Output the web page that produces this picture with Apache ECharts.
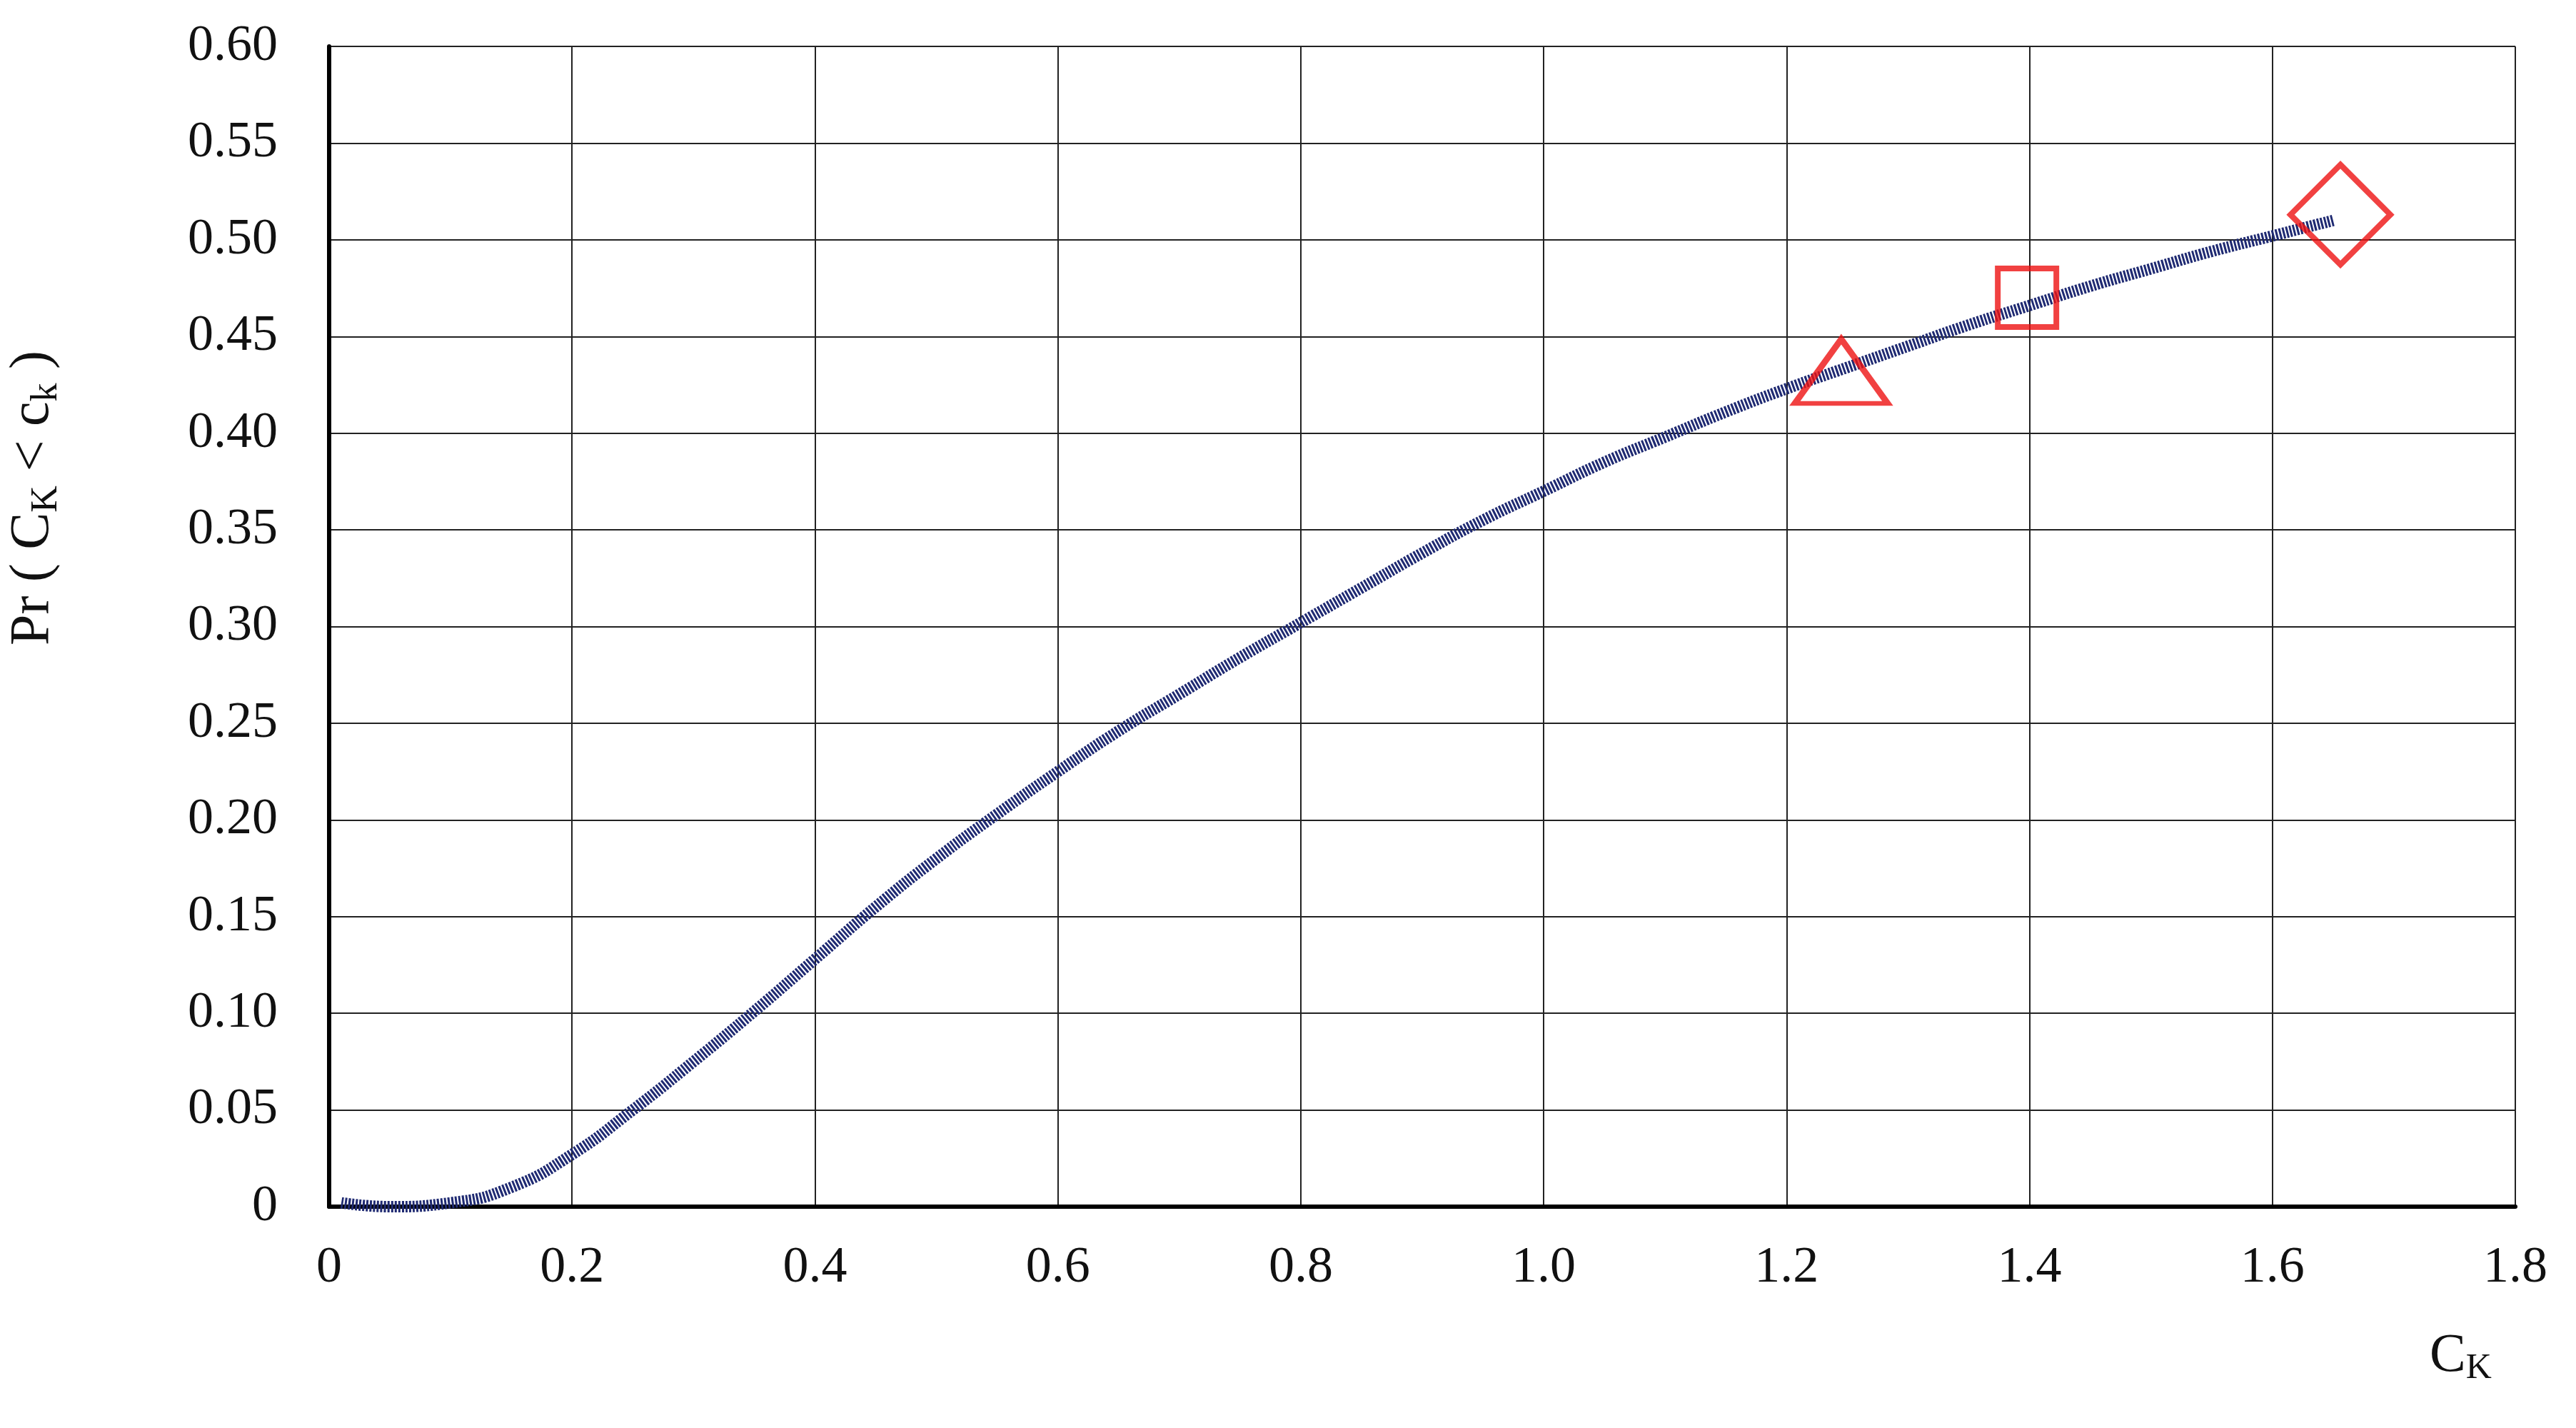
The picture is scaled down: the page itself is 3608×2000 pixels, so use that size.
<!DOCTYPE html>
<html><head><meta charset="utf-8">
<script src="https://cdn.jsdelivr.net/npm/echarts@6/dist/echarts.min.js"></script>
<style>html,body{margin:0;background:#fff}#c{width:3608px;height:2000px}</style>
</head><body><div id="c"></div>
<script>
// curve
var ckValues = [0.01, 0.05, 0.1, 0.15, 0.2, 0.25, 0.3, 0.35, 0.4, 0.45, 0.5, 0.55, 0.6, 0.65, 0.7, 0.75, 0.8, 0.85, 0.9, 0.95, 1.0, 1.05, 1.1, 1.15, 1.2, 1.25, 1.3, 1.35, 1.4, 1.45, 1.5, 1.55, 1.6, 1.65];
var prValues = [0.002, 0.0, 0.002, 0.01, 0.027, 0.05, 0.075, 0.101, 0.128, 0.155, 0.18, 0.203, 0.225, 0.246, 0.265, 0.284, 0.302, 0.32, 0.338, 0.355, 0.37, 0.385, 0.398, 0.411, 0.423, 0.434, 0.445, 0.456, 0.466, 0.476, 0.485, 0.494, 0.502, 0.51];
var triPoint = [1.245, 0.432];
var rectPoint = [1.398, 0.47];
var diamondPoint = [1.656, 0.513];

var font = 'Liberation Serif';
var chart = echarts.init(document.getElementById('c'));
var hollow = {color: 'rgba(255,255,255,0)', borderColor: '#ee1111', borderWidth: 8};
var option = {
    animation: false,
    grid: {left: 439, right: 85, top: 65, bottom: 310},
    xAxis: {
        type: 'value', min: 0, max: 1.8, interval: 0.2,
        axisLine: {lineStyle: {color: '#000', width: 6}},
        axisTick: {show: false},
        splitLine: {lineStyle: {color: '#222', width: 2}},
        axisLabel: {fontFamily: font, fontSize: 72, color: '#111', margin: 50,
            formatter: function (v) { return v === 0 ? '0' : v.toFixed(1); }},
        name: '{m|C}{s|K}', nameLocation: 'end', nameGap: 0,
        nameTextStyle: {padding: [420, 0, 0, -120],
            rich: {m: {fontFamily: font, fontSize: 76, color: '#111'},
                   s: {fontFamily: font, fontSize: 50, color: '#111', padding: [34, 0, 0, 0]}}}
    },
    yAxis: {
        type: 'value', min: 0, max: 0.6, interval: 0.05,
        axisLine: {show: true, lineStyle: {color: '#000', width: 6}},
        axisTick: {show: false},
        splitLine: {lineStyle: {color: '#222', width: 2}},
        axisLabel: {fontFamily: font, fontSize: 72, color: '#111', margin: 72,
            formatter: function (v) { return v === 0 ? '0' : v.toFixed(2); }},
        name: '{m|Pr ( C}{s|K}{m| < c}{s|k}{m| )}', nameLocation: 'middle', nameGap: 370,
        nameTextStyle: {padding: [0, 0, 0, 360],
            rich: {m: {fontFamily: font, fontSize: 78, color: '#111'},
                   s: {fontFamily: font, fontSize: 52, color: '#111', padding: [36, 0, 0, 0]}}}
    },
    series: [
        {type: 'line', smooth: true, showSymbol: false,
         data: ckValues.map(function (x, i) { return [x, prValues[i]]; }),
         lineStyle: {color: '#1f2a72', width: 16, type: [3, 2]}, z: 3},
        {type: 'scatter', symbol: 'triangle', symbolSize: [130, 90], data: [triPoint], itemStyle: hollow, z: 4},
        {type: 'scatter', symbol: 'rect', symbolSize: 82, data: [rectPoint], itemStyle: hollow, z: 4},
        {type: 'scatter', symbol: 'diamond', symbolSize: [140, 140], data: [diamondPoint], itemStyle: hollow, z: 4}
    ]
};
chart.setOption(option);
</script></body></html>
